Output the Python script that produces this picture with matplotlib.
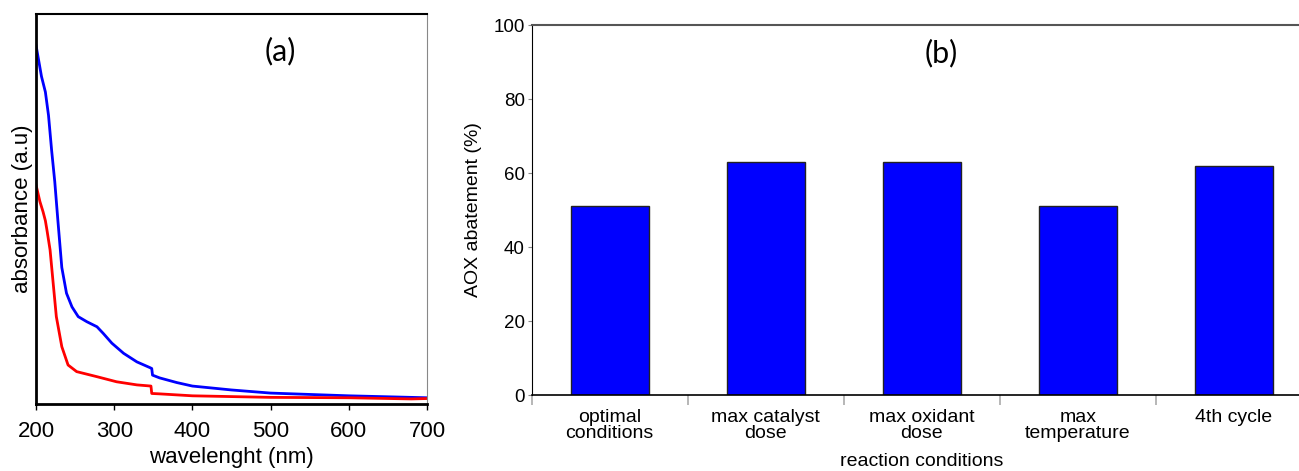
import matplotlib.pyplot as plt
import numpy as np

plt.rcParams['font.family'] = ['Liberation Sans', 'DejaVu Sans']

# panel (a): UV-vis spectra (arbitrary units)
wl_blue = [200, 207, 212, 216, 220, 224, 228, 233, 239, 246, 254, 265, 278,
           286, 297, 312, 329, 346, 348, 349, 358, 380, 400, 450, 500, 600, 700]
abs_blue = [0.92, 0.84, 0.80, 0.74, 0.65, 0.57, 0.47, 0.35, 0.284, 0.249,
            0.224, 0.211, 0.198, 0.181, 0.156, 0.130, 0.108, 0.093, 0.091,
            0.074, 0.067, 0.055, 0.046, 0.036, 0.028, 0.021, 0.016]
wl_red = [200, 205, 209, 212, 214, 218, 222, 226, 233, 241, 252, 278, 303,
          329, 347, 348, 358, 400, 500, 600, 680, 700]
abs_red = [0.562, 0.519, 0.493, 0.47, 0.446, 0.395, 0.309, 0.224, 0.147, 0.100,
           0.083, 0.070, 0.057, 0.049, 0.046, 0.027, 0.026, 0.021, 0.017,
           0.016, 0.013, 0.014]

# panel (b): AOX abatement
conditions = ['optimal\nconditions', 'max catalyst\ndose', 'max oxidant\ndose',
              'max\ntemperature', '4th cycle']
aox = [51, 63, 63, 51, 62]

W, H = 1299, 471
fig = plt.figure(figsize=(W / 100, H / 100), dpi=100)

# ---- (a)
ax1 = fig.add_axes([36 / W, (H - 404) / H, 391 / W, 390 / H])
ax1.plot(wl_blue, abs_blue, color='#0000ff', lw=2)
ax1.plot(wl_red, abs_red, color='#ff0000', lw=2)
ax1.set_xlim(200, 700)
ax1.set_ylim(0, 1)
ax1.set_yticks([])
ax1.set_xticks([200, 300, 400, 500, 600, 700])
ax1.tick_params(axis='x', labelsize=16, length=4, width=1, direction='out', pad=8)
for side in ['left', 'bottom']:
    ax1.spines[side].set_linewidth(2)
ax1.spines['top'].set_linewidth(1.5)
ax1.spines['right'].set_color('#888888')
ax1.set_xlabel('wavelenght (nm)', fontsize=16, labelpad=4)
ax1.set_ylabel('absorbance (a.u)', fontsize=16, labelpad=2)
ax1.text(0.625, 0.905, '(a)', transform=ax1.transAxes, fontsize=22,
         family=['Lato', 'DejaVu Sans'], ha='center', va='center')

# ---- (b)
ax2 = fig.add_axes([531.7 / W, (H - 395) / H, 780 / W, 370 / H])
x = np.arange(len(aox))
ax2.bar(x, aox, width=0.5, color='#0000ff', edgecolor='#222222', linewidth=1)
ax2.set_xlim(-0.5, 4.5)
ax2.set_ylim(0, 100)
ax2.set_yticks([0, 20, 40, 60, 80, 100])
ax2.tick_params(axis='y', labelsize=13.5, length=3, color='#888888', pad=2)
ax2.set_xticks(np.arange(-0.5, 5, 1))
ax2.set_xticklabels([])
ax2.set_xticks(x, minor=True)
ax2.set_xticklabels(conditions, minor=True, fontsize=14, linespacing=0.9)
ax2.tick_params(axis='x', which='major', length=7, color='#aaaaaa', width=1.2)
ax2.tick_params(axis='x', which='minor', length=0, pad=10)
ax2.spines['top'].set_color('#555555')
ax2.spines['top'].set_linewidth(1.5)
ax2.spines['right'].set_visible(False)
ax2.spines['bottom'].set_linewidth(1.2)
ax2.set_xlabel('reaction conditions', fontsize=14, labelpad=8)
ax2.set_ylabel('AOX abatement (%)', fontsize=14, labelpad=8)
ax2.text(0.525, 0.925, '(b)', transform=ax2.transAxes, fontsize=22,
         family=['Lato', 'DejaVu Sans'], ha='center', va='center')

fig.savefig('out.png', dpi=100)
